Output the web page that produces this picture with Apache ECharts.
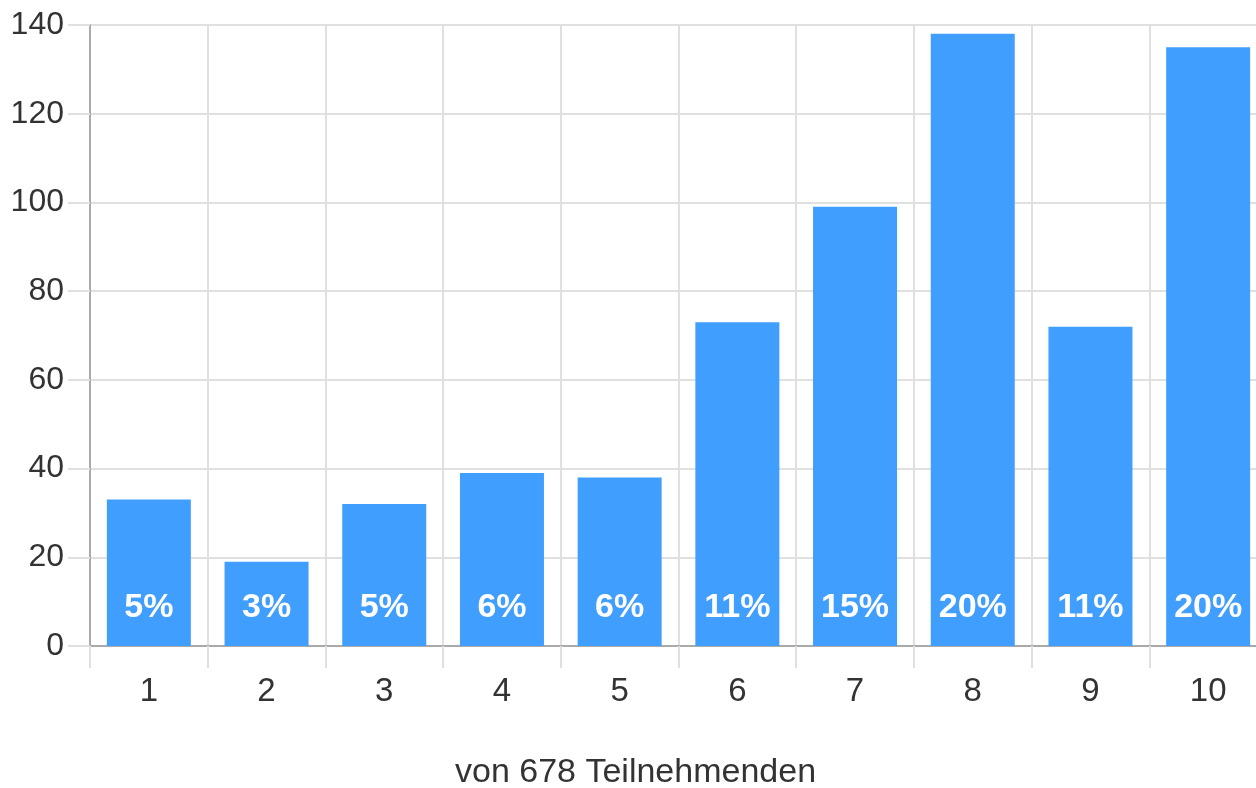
<!DOCTYPE html>
<html>
<head>
<meta charset="utf-8">
<script src="https://cdn.jsdelivr.net/npm/echarts@6/dist/echarts.min.js"></script>
<style>
  html, body { margin: 0; padding: 0; background: #fff; }
  #chart { width: 1256px; height: 788px; }
</style>
</head>
<body>
<div id="chart"></div>
<script>
// Kategorien (Bewertung 1-10)
const categories = ['1', '2', '3', '4', '5', '6', '7', '8', '9', '10'];
// Anzahl Antworten je Kategorie
const counts = [33, 19, 32, 39, 38, 73, 99, 138, 72, 135];
// Prozentbeschriftungen in den Balken
const percentLabels = ['5%', '3%', '5%', '6%', '6%', '11%', '15%', '20%', '11%', '20%'];
const totalText = 'von 678 Teilnehmenden';

const fontFamily = '"Liberation Sans", Arial, Helvetica, sans-serif';

let chart = echarts.init(document.getElementById('chart'));
let option = {
    animation: false,
    textStyle: { fontFamily: fontFamily },
    title: {
        text: totalText,
        left: 455,
        top: 756,
        padding: 0,
        textStyle: {
            fontFamily: fontFamily,
            fontSize: 34,
            fontWeight: 'normal',
            color: '#333'
        }
    },
    grid: {
        left: 90,
        top: 25,
        width: 1177,
        bottom: 142,
        containLabel: false,
        outerBoundsMode: 'none'
    },
    xAxis: {
        type: 'category',
        data: categories,
        boundaryGap: true,
        axisLine: { show: true, lineStyle: { color: '#aaa', width: 2 } },
        axisTick: { show: true, length: 22, lineStyle: { color: '#e0e0e0', width: 2 } },
        axisLabel: { fontSize: 33, color: '#333', margin: 29, fontFamily: fontFamily },
        splitLine: { show: true, lineStyle: { color: '#e0e0e0', width: 2 } }
    },
    yAxis: {
        type: 'value',
        min: 0,
        max: 140,
        interval: 20,
        axisLine: { show: true, lineStyle: { color: '#aaa', width: 2 } },
        axisTick: { show: true, length: 22, lineStyle: { color: '#e0e0e0', width: 2 } },
        axisLabel: { fontSize: 32, color: '#333', margin: 26, fontFamily: fontFamily },
        splitLine: { show: true, lineStyle: { color: '#e0e0e0', width: 2 } }
    },
    series: [{
        type: 'bar',
        data: counts,
        barWidth: 84,
        itemStyle: { color: '#409EFF' },
        label: {
            show: true,
            position: 'insideBottom',
            distance: 21,
            color: '#fff',
            fontSize: 34,
            fontWeight: 'bold',
            fontFamily: fontFamily,
            formatter: function (p) { return percentLabels[p.dataIndex]; }
        }
    }]
};
chart.setOption(option, true);
window.addEventListener('resize', function () { chart.resize(); });
</script>
</body>
</html>
